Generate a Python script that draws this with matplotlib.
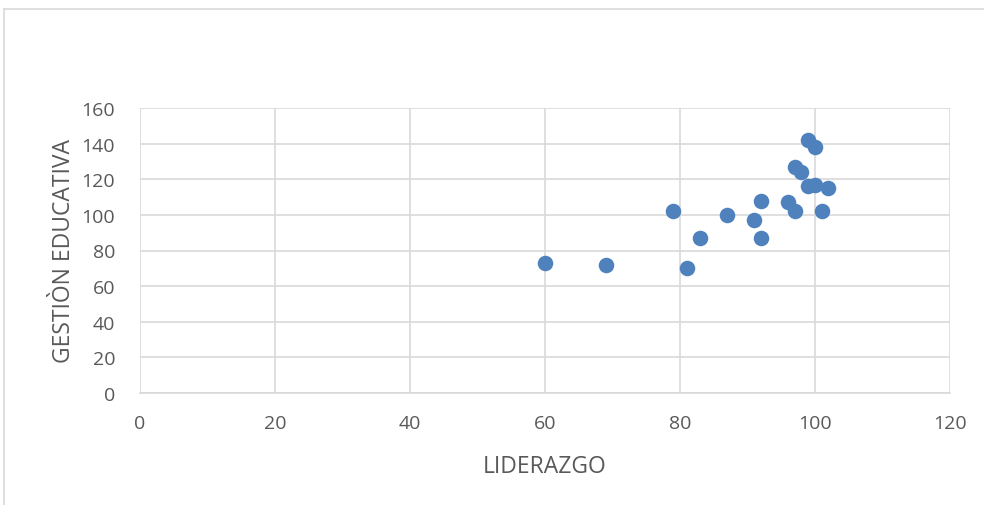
import matplotlib.pyplot as plt
from matplotlib.lines import Line2D

# data
liderazgo = [60, 69, 79, 81, 83, 87, 91, 92, 92, 96, 97, 97, 98, 99, 100, 99, 100, 102, 101]
gestion = [73, 72, 102, 70, 87, 100, 97, 108, 87, 107, 102, 127, 124, 142, 138, 116, 117, 115, 102]

x_ticks = [0, 20, 40, 60, 80, 100, 120]
y_ticks = [0, 20, 40, 60, 80, 100, 120, 140, 160]

plt.rcParams['font.family'] = ['Open Sans', 'DejaVu Sans']
text_col = '#595959'
grid_col = '#d9d9d9'

fig = plt.figure(figsize=(9.84, 5.06), dpi=100)
ax = fig.add_axes([140 / 984, 1 - 394 / 506, 810 / 984, 285 / 506])

ax.scatter(liderazgo, gestion, s=125, color='#4f81bd', zorder=3, linewidths=0)

ax.set_xlim(0, 120)
ax.set_ylim(0, 160)
ax.set_xticks(x_ticks)
ax.set_yticks(y_ticks)
ax.grid(True, color=grid_col, linewidth=1.2)
ax.set_axisbelow(True)
for side in ['top', 'right', 'left']:
    ax.spines[side].set_visible(False)
ax.spines['bottom'].set_color(grid_col)
ax.spines['bottom'].set_linewidth(1.2)
ax.tick_params(length=0, labelsize=14, colors=text_col)
ax.tick_params(axis='x', pad=15)
ax.tick_params(axis='y', pad=18)

ax.set_xlabel('LIDERAZGO', fontsize=16.5, color=text_col, labelpad=16)
ax.set_ylabel('GESTIÒN EDUCATIVA', fontsize=16.5, color=text_col, labelpad=4)

# chart area border (cropped at right and bottom)
fig.add_artist(Line2D([4 / 984, 4 / 984], [0, 1 - 10 / 506], transform=fig.transFigure, color=grid_col, lw=1.2))
fig.add_artist(Line2D([4 / 984, 1], [1 - 10 / 506, 1 - 10 / 506], transform=fig.transFigure, color=grid_col, lw=1.2))

fig.savefig('out.png', dpi=100)
